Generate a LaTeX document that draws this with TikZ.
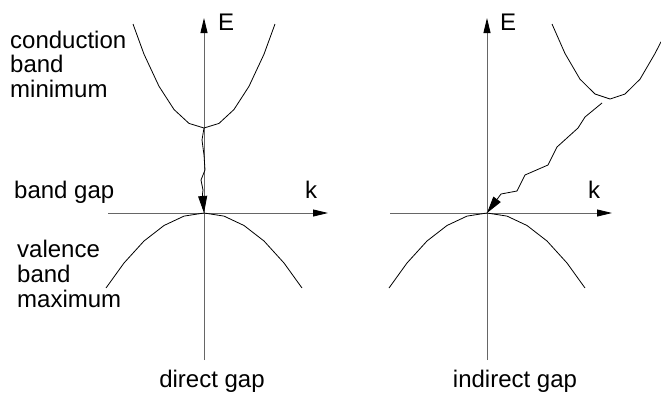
\documentclass[tikz,border=0pt]{standalone}
\usepackage{fontspec}
\setmainfont{Liberation Sans}
\usetikzlibrary{arrows.meta}
\begin{document}
\begin{tikzpicture}[x=1pt,y=-1pt,
  axis/.style={line width=0.8pt,black!60,-{Triangle[length=15pt,width=7pt,black]}},
  axisplain/.style={line width=0.8pt,black!60},
  band/.style={line width=0.8pt,black,line join=round},
  trans/.style={line width=0.8pt,black,line join=round,-{Triangle[length=17pt,width=9pt]}},
  lbl/.style={inner sep=0pt,font=\fontsize{24}{24.5}\selectfont,align=left}]
\useasboundingbox (0,0) rectangle (661,394);
% ---- left panel (direct gap)
\coordinate (LO) at (204,213);
\coordinate (Ltop) at (204,18);
\coordinate (Lbot) at (204,360);
\coordinate (Lleft) at (108,213);
\coordinate (Lright) at (328,213);
\coordinate (Lcmin) at (204,128);
\draw[axisplain] (Lbot) -- (LO);
\draw[axis] (LO) -- (Ltop);
\draw[axisplain] (Lleft) -- (LO);
\draw[axis] (LO) -- (Lright);
% conduction band
\draw[band] plot coordinates {(133,24) (144,54.2) (159,86.3) (174,109.5) (189,123.4) (204,128) (219,123.4) (234,109.5) (249,86.3) (264,54.2) (275,24)};
% valence band
\draw[band] plot coordinates {(106,288) (124,263) (144,241) (164,225.5) (184,216.1) (204,213) (224,216.1) (244,225.5) (264,241) (284,263) (302,288)};
\draw[trans] (Lcmin) -- (202,140) -- (204,155) -- (205,170) -- (201,180) -- (203,190) -- (202.5,194) -- (LO);
\node[lbl,anchor=base west] (Elabel1) at (218,30) {E};
\node[lbl,anchor=base west] (klabel1) at (305,198) {k};
\node[lbl,anchor=base west] (cbm1) at (10,48) {conduction};
\node[lbl,anchor=base west] (cbm2) at (10,72.5) {band};
\node[lbl,anchor=base west] (cbm3) at (10,97) {minimum};
\node[lbl,anchor=base west] (gap) at (14,198) {band gap};
\node[lbl,anchor=base west] (vbm1) at (17,257) {valence};
\node[lbl,anchor=base west] (vbm2) at (17,282) {band};
\node[lbl,anchor=base west] (vbm3) at (17,307) {maximum};
\node[lbl,anchor=base] (direct) at (212,387) {direct gap};
% ---- right panel (indirect gap)
\coordinate (RO) at (487,213);
\coordinate (Rtop) at (487,18);
\coordinate (Rbot) at (487,360);
\coordinate (Rleft) at (390,213);
\coordinate (Rright) at (612,213);
\coordinate (Rcmin) at (602,103);
\draw[axisplain] (Rbot) -- (RO);
\draw[axis] (RO) -- (Rtop);
\draw[axisplain] (Rleft) -- (RO);
\draw[axis] (RO) -- (Rright);
\draw[band] plot coordinates {(552,24) (565,53.5) (580,79.2) (595,94) (610,99) (625,94) (640,79.2) (655,53.5) (661,41.8)};
\draw[band] plot coordinates {(389,288) (407,263) (427,241) (447,225.5) (467,216.1) (487,213) (507,216.1) (527,225.5) (547,241) (567,263) (585,288)};
\draw[trans] (Rcmin) -- (585,117) -- (578,128) -- (557,147) -- (548,165) -- (525,175) -- (517,191) -- (501,194) -- (RO);
\node[lbl,anchor=base west] (Elabel2) at (500,30) {E};
\node[lbl,anchor=base west] (klabel2) at (588,198) {k};
\node[lbl,anchor=base] (indirect) at (515,387) {indirect gap};
\end{tikzpicture}
\end{document}
